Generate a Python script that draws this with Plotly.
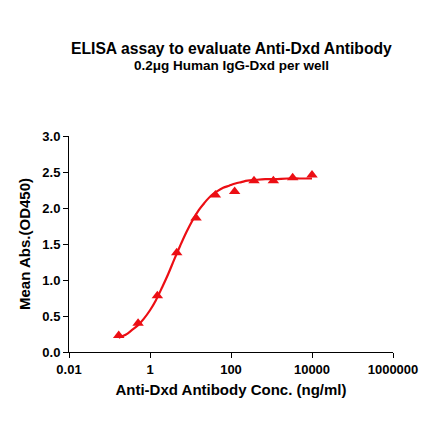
import plotly.graph_objects as go

# measured points (3-fold dilution series, ng/ml)
conc = [0.169, 0.508, 1.52, 4.57, 13.7, 41.2, 123, 370, 1111, 3333, 10000]
od450 = [0.23, 0.40, 0.78, 1.38, 1.86, 2.18, 2.23, 2.38, 2.38, 2.42, 2.46]

# fitted curve
fit_conc = [0.169, 0.25, 0.35, 0.5, 0.7, 1.0, 1.4, 2.0, 2.8, 4.0, 5.6, 8, 11,
            16, 22, 32, 45, 64, 90, 128, 180, 256, 400, 700, 1200, 2500,
            5000, 10000]
fit_od = [0.20, 0.24, 0.30, 0.37, 0.46, 0.58, 0.72, 0.90, 1.08, 1.29, 1.48,
          1.67, 1.82, 1.97, 2.07, 2.17, 2.23, 2.28, 2.31, 2.34, 2.36, 2.38,
          2.39, 2.40, 2.40, 2.41, 2.41, 2.41]

x_ticks = [0.01, 1, 100, 10000, 1000000]
x_tick_text = ['0.01', '1', '100', '10000', '1000000']
y_ticks = [0.0, 0.5, 1.0, 1.5, 2.0, 2.5, 3.0]

RED = 'rgb(236,14,20)'
FONT = 'Liberation Sans, Arial, sans-serif'

fig = go.Figure()
fig.add_trace(go.Scatter(
    x=fit_conc, y=fit_od, mode='lines',
    line=dict(color=RED, width=2.2, shape='spline'),
    hoverinfo='skip', showlegend=False,
))
fig.add_trace(go.Scatter(
    x=conc, y=od450, mode='markers',
    marker=dict(symbol='triangle-up', size=10, color=RED),
    showlegend=False,
))

axis_font = dict(family=FONT, size=13, color='black', weight='bold')
fig.update_xaxes(
    type='log', range=[-2, 6], automargin=False,
    tickvals=x_ticks, ticktext=x_tick_text,
    ticks='outside', ticklen=5, tickwidth=1, tickcolor='black',
    showline=True, linecolor='black', linewidth=1,
    showgrid=False, zeroline=False,
    tickfont=axis_font,
    title=dict(text='Anti-Dxd Antibody Conc. (ng/ml)', font=dict(family=FONT, size=15, color='black', weight='bold'), standoff=8),
)
fig.update_yaxes(
    range=[0, 3], tickvals=y_ticks, tickformat='.1f', automargin=False,
    ticks='outside', ticklen=5, tickwidth=1, tickcolor='black',
    showline=True, linecolor='black', linewidth=1,
    showgrid=False, zeroline=False,
    tickfont=axis_font,
    title=dict(text='Mean Abs.(OD450)', font=dict(family=FONT, size=15, color='black', weight='bold'), standoff=8),
)

fig.add_annotation(text='ELISA assay to evaluate Anti-Dxd Antibody',
                   xref='paper', yref='paper', x=0.5, y=1.0, yshift=88,
                   yanchor='middle', showarrow=False,
                   font=dict(family=FONT, size=15.7, color='black', weight='bold'))
fig.add_annotation(text='0.2μg Human IgG-Dxd per well',
                   xref='paper', yref='paper', x=0.5, y=1.0, yshift=71,
                   yanchor='middle', showarrow=False,
                   font=dict(family=FONT, size=13.5, color='black', weight='bold'))

# page body adds 8px, so the figure is sized/margined to compensate
fig.update_layout(
    width=432, height=433,
    margin=dict(l=61, r=47, t=128, b=89),
    plot_bgcolor='white', paper_bgcolor='white',
    font=dict(family=FONT),
)

fig.write_html("out.html")
